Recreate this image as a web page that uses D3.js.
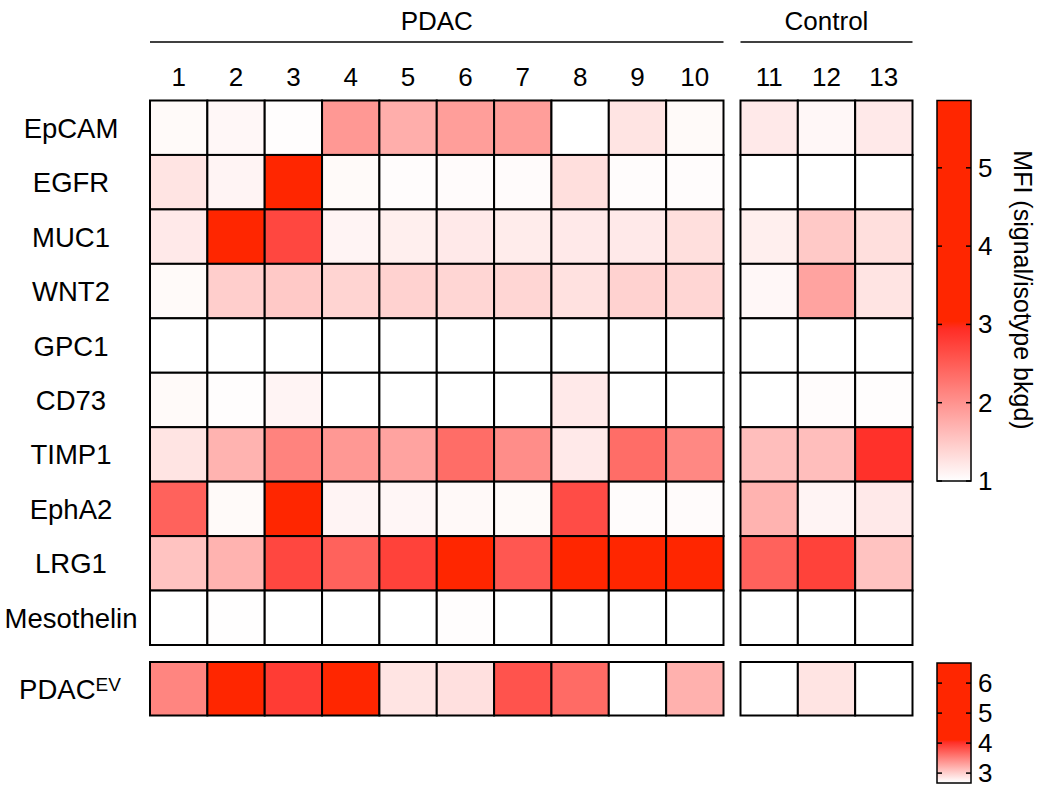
<!DOCTYPE html>
<html>
<head>
<meta charset="utf-8">
<script src="https://cdn.jsdelivr.net/npm/d3@7"></script>
<style>
  body { margin: 0; background: #fff; }
  svg text { font-family: "Liberation Sans", Arial, Helvetica, sans-serif; fill: #000; }
</style>
</head>
<body>
<svg id="chart" width="1050" height="791"></svg>
<script>
// --- data ---
const markers = ['EpCAM', 'EGFR', 'MUC1', 'WNT2', 'GPC1', 'CD73', 'TIMP1', 'EphA2', 'LRG1', 'Mesothelin'];
const pdacCols = ['1', '2', '3', '4', '5', '6', '7', '8', '9', '10'];
const ctrlCols = ['11', '12', '13'];

// MFI (signal / isotype bkgd), one row per marker
const pdacValues = [
  [1.05, 1.07, 1.02, 1.95, 1.75, 1.90, 1.90, 1.00, 1.25, 1.05],
  [1.25, 1.10, 3.60, 1.05, 1.03, 1.04, 1.04, 1.30, 1.03, 1.03],
  [1.20, 4.00, 2.70, 1.10, 1.15, 1.20, 1.18, 1.20, 1.20, 1.30],
  [1.05, 1.45, 1.50, 1.40, 1.42, 1.38, 1.38, 1.28, 1.42, 1.38],
  [1.00, 1.00, 1.00, 1.00, 1.00, 1.00, 1.00, 1.00, 1.00, 1.00],
  [1.05, 1.02, 1.10, 1.00, 1.00, 1.00, 1.00, 1.20, 1.00, 1.00],
  [1.25, 1.70, 2.15, 1.95, 1.85, 2.35, 2.05, 1.20, 2.35, 2.10],
  [2.45, 1.05, 3.60, 1.10, 1.08, 1.06, 1.05, 2.65, 1.03, 1.04],
  [1.55, 1.70, 2.70, 2.45, 2.75, 3.50, 2.55, 3.30, 3.20, 3.30],
  [1.00, 1.01, 1.00, 1.00, 1.00, 1.02, 1.00, 1.00, 1.00, 1.00]
];
const ctrlValues = [
  [1.20, 1.07, 1.20],
  [1.00, 1.00, 1.00],
  [1.15, 1.50, 1.30],
  [1.07, 1.85, 1.25],
  [1.00, 1.00, 1.00],
  [1.00, 1.03, 1.02],
  [1.60, 1.60, 2.90],
  [1.70, 1.10, 1.20],
  [2.45, 2.75, 1.55],
  [1.00, 1.00, 1.00]
];
const evPdac = [3.48, 6.00, 3.95, 5.50, 2.87, 2.90, 3.80, 3.65, 2.70, 3.20];
const evCtrl = [2.70, 2.87, 2.70];

const mainTicks = [1, 2, 3, 4, 5];
const evTicks = [3, 4, 5, 6];

// --- scales ---
const svg = d3.select('#chart');
const red = '#ff2600';

const xP = d3.scaleBand().domain(pdacCols).range([150, 723.5]);
const xC = d3.scaleBand().domain(ctrlCols).range([740.5, 912.5]);
const y = d3.scaleBand().domain(markers).range([100.5, 645]);
const yEV = d3.scaleBand().domain(['PDAC_EV']).range([662, 715.5]);

// white -> pinkish red, saturating at the top of the ramp
const colorMain = d3.scaleLinear().domain([1, 2.95, 3]).range(['#ffffff', '#ff2c24', red]).clamp(true);
const colorEV = d3.scaleLinear().domain([2.7, 4.05, 4.1]).range(['#ffffff', '#ff2c24', red]).clamp(true);

// --- heatmap cells ---
function drawBlock(cols, x, rows) {
  const g = svg.append('g');
  rows.forEach((vals, i) => {
    g.selectAll(null)
      .data(vals)
      .enter()
      .append('rect')
      .attr('x', (d, j) => x(cols[j]))
      .attr('y', y(markers[i]))
      .attr('width', x.bandwidth())
      .attr('height', y.bandwidth())
      .attr('fill', d => colorMain(d))
      .attr('stroke', '#000')
      .attr('stroke-width', 2);
  });
}
drawBlock(pdacCols, xP, pdacValues);
drawBlock(ctrlCols, xC, ctrlValues);

function drawEV(cols, x, vals) {
  svg.append('g').selectAll('rect')
    .data(vals)
    .enter()
    .append('rect')
    .attr('x', (d, j) => x(cols[j]))
    .attr('y', yEV('PDAC_EV'))
    .attr('width', x.bandwidth())
    .attr('height', yEV.bandwidth())
    .attr('fill', d => colorEV(d))
    .attr('stroke', '#000')
    .attr('stroke-width', 2);
}
drawEV(pdacCols, xP, evPdac);
drawEV(ctrlCols, xC, evCtrl);

// --- group headers and column numbers ---
const groups = [
  { name: 'PDAC', x: xP, cols: pdacCols },
  { name: 'Control', x: xC, cols: ctrlCols }
];
groups.forEach(gr => {
  const [x0, x1] = gr.x.range();
  svg.append('text')
    .attr('x', (x0 + x1) / 2)
    .attr('y', 30)
    .attr('text-anchor', 'middle')
    .style('font-size', '26px')
    .text(gr.name);
  svg.append('line')
    .attr('x1', x0).attr('x2', x1)
    .attr('y1', 42).attr('y2', 42)
    .attr('stroke', '#000')
    .attr('stroke-width', 1.5);
  svg.selectAll(null)
    .data(gr.cols)
    .enter()
    .append('text')
    .attr('x', d => gr.x(d) + gr.x.bandwidth() / 2)
    .attr('y', 86)
    .attr('text-anchor', 'middle')
    .style('font-size', '26px')
    .text(d => d);
});

// --- row labels ---
svg.selectAll('.row-label')
  .data(markers)
  .enter()
  .append('text')
  .attr('class', 'row-label')
  .attr('x', 71)
  .attr('y', d => y(d) + y.bandwidth() / 2 + 10)
  .attr('text-anchor', 'middle')
  .style('font-size', '27.5px')
  .text(d => d);

const evLabel = svg.append('text')
  .attr('x', 70)
  .attr('y', yEV('PDAC_EV') + yEV.bandwidth() / 2 + 10)
  .attr('text-anchor', 'middle')
  .style('font-size', '27.5px');
evLabel.append('tspan').text('PDAC');
evLabel.append('tspan').attr('dy', -8).style('font-size', '19px').text('EV');

// --- colour bars ---
const defs = svg.append('defs');
function colorBar(id, color, domain, range, ticks) {
  const barX = 937, barW = 34;
  const sc = d3.scaleLinear().domain(domain).range(range);
  const grad = defs.append('linearGradient')
    .attr('id', id)
    .attr('x1', 0).attr('y1', 1).attr('x2', 0).attr('y2', 0);
  d3.range(0, 1.0001, 0.02).forEach(t => {
    const v = domain[0] + t * (domain[1] - domain[0]);
    grad.append('stop').attr('offset', t).attr('stop-color', color(v));
  });
  svg.append('rect')
    .attr('x', barX).attr('y', range[1])
    .attr('width', barW).attr('height', range[0] - range[1])
    .attr('fill', `url(#${id})`)
    .attr('stroke', '#000')
    .attr('stroke-width', 1.5);
  const tg = svg.append('g');
  ticks.forEach(t => {
    const ty = sc(t);
    tg.append('line').attr('x1', barX).attr('x2', barX + 5).attr('y1', ty).attr('y2', ty)
      .attr('stroke', '#000').attr('stroke-width', 1.5);
    tg.append('line').attr('x1', barX + barW - 5).attr('x2', barX + barW).attr('y1', ty).attr('y2', ty)
      .attr('stroke', '#000').attr('stroke-width', 1.5);
    tg.append('text')
      .attr('x', barX + barW + 7)
      .attr('y', ty + 9)
      .style('font-size', '26px')
      .text(t);
  });
}
colorBar('grad-main', colorMain, [1, 5.86], [481, 100.5], mainTicks);
colorBar('grad-ev', colorEV, [2.67, 6.67], [783, 663], evTicks);

svg.append('text')
  .attr('transform', 'translate(1014,290) rotate(90)')
  .attr('text-anchor', 'middle')
  .style('font-size', '25px')
  .text('MFI (signal/isotype bkgd)');
</script>
</body>
</html>
